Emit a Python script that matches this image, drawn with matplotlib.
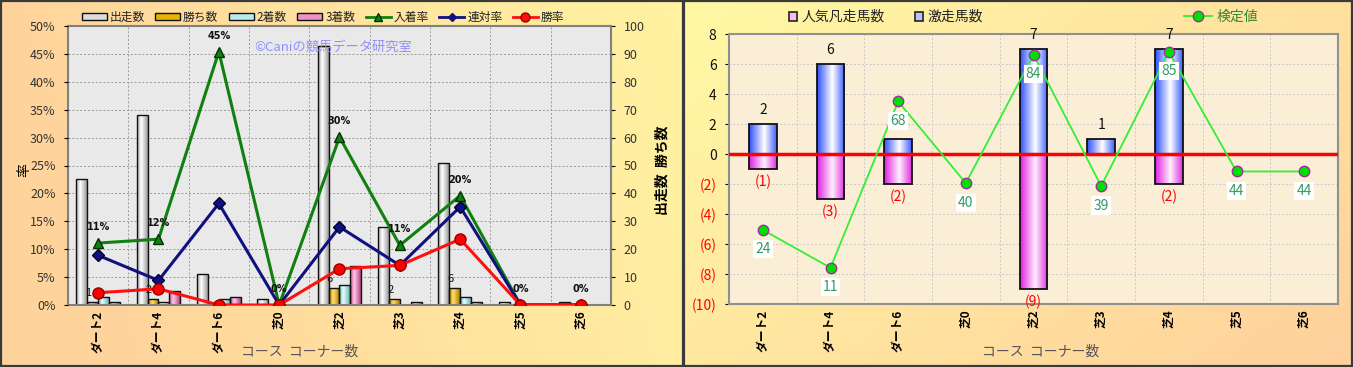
import numpy as np
import matplotlib
matplotlib.use('Agg')
import matplotlib.pyplot as plt
from matplotlib.colors import LinearSegmentedColormap, to_rgb
from matplotlib.patches import Rectangle, Patch
from matplotlib.lines import Line2D

plt.rcParams['font.family'] = ['Noto Sans CJK JP', 'DejaVu Sans']

# ---------------- data ----------------
categories = ['ダート2', 'ダート4', 'ダート6', '芝0', '芝2', '芝3', '芝4', '芝5', '芝6']
starts = [45, 68, 11, 2, 93, 28, 51, 1, 1]
wins = [1, 2, 0, 0, 6, 2, 6, 0, 0]
seconds = [3, 1, 2, 0, 7, 0, 3, 0, 0]
thirds = [1, 5, 3, 0, 14, 1, 1, 0, 0]
place_rate = [11.1, 11.8, 45.4, 0, 30.1, 10.7, 19.6, 0, 0]
quinella_rate = [8.9, 4.4, 18.2, 0, 14.0, 7.1, 17.6, 0, 0]
win_rate = [2.2, 2.9, 0, 0, 6.5, 7.1, 11.8, 0, 0]

gekiso = [2, 6, 1, 0, 7, 1, 7, 0, 0]      # 激走馬数
bonso = [1, 3, 2, 0, 9, 0, 2, 0, 0]       # 人気凡走馬数 (drawn downward)
kentei = [24, 11, 68, 40, 84, 39, 85, 44, 44]  # 検定値

W, H = 1353, 367
fig = plt.figure(figsize=(W / 100, H / 100), dpi=100)

# ---------------- backgrounds ----------------
bg = fig.add_axes([0, 0, 1, 1], zorder=-10)
bg.set_xlim(0, W)
bg.set_ylim(H, 0)
bg.axis('off')


def grad2d(c0, c1, nx, ny, wx, wy):
    xs = np.linspace(0, 1, nx)[None, :]
    ys = np.linspace(0, 1, ny)[:, None]
    t = np.clip(wx * xs + wy * ys, 0, 1)
    c0 = np.array(to_rgb(c0))
    c1 = np.array(to_rgb(c1))
    return c0[None, None, :] * (1 - t[..., None]) + c1[None, None, :] * t[..., None]


bg.imshow(grad2d('#FFD49C', '#FFF8A2', 200, 60, 0.85, -0.15), extent=[0, 683, H, 0],
          aspect='auto', interpolation='bilinear')
bg.imshow(grad2d('#FFF9A4', '#FFD09C', 200, 60, 0.6, 0.4), extent=[683, W, H, 0],
          aspect='auto', interpolation='bilinear')
bg.add_patch(Rectangle((0.8, 0.8), 682, H - 1.6, fill=False, ec='#3a3a3a', lw=1.6))
bg.add_patch(Rectangle((683.5, 0.8), W - 684.3, H - 1.6, fill=False, ec='#3a3a3a', lw=1.6))
bg.set_xlim(0, W)
bg.set_ylim(H, 0)


def gradient_bars(ax, bars, colors, stops=None):
    if stops is None:
        cmap = LinearSegmentedColormap.from_list('g', colors)
    else:
        cmap = LinearSegmentedColormap.from_list('g', list(zip(stops, colors)))
    grad = np.linspace(0, 1, 64).reshape(1, -1)
    for b in bars:
        h = b.get_height()
        if h == 0:
            b.set_visible(False)
            continue
        x0, y0, w = b.get_x(), b.get_y(), b.get_width()
        im = ax.imshow(grad, cmap=cmap, extent=[x0, x0 + w, y0, y0 + h], aspect='auto',
                       zorder=b.get_zorder() - 0.01, interpolation='bilinear', origin='lower')
        im.set_clip_path(b)
        b.set_facecolor('none')


x = np.arange(len(categories))

# ---------------- left chart ----------------
axL = fig.add_axes([68 / W, 1 - 305 / H, 543 / W, 279 / H])
axL.set_facecolor('#E9E9E9')
bw = 0.18
series = [
    (starts, ['#A8A8A8', '#FFFFFF', '#9A9A9A'], [0, 0.4, 1]),
    (wins, ['#B88A00', '#FFE066', '#A87A00'], [0, 0.4, 1]),
    (seconds, ['#70B8B8', '#E8FFFF', '#70B0B0'], [0, 0.4, 1]),
    (thirds, ['#C85090', '#FFC8E8', '#B84080'], [0, 0.4, 1]),
]
for k, (vals, cols, st) in enumerate(series):
    bars = axL.bar(x + (k - 1.5) * bw, vals, bw, edgecolor='#111111', linewidth=1.0, zorder=2)
    gradient_bars(axL, bars, cols, st)

for i, v in enumerate(wins):
    if v > 0:
        axL.annotate(str(v), (i - 0.5 * bw, v), xytext=(-3, 3), textcoords='offset points',
                     ha='center', va='bottom', fontsize=8, color='#111111', zorder=5)

axL.set_xlim(-0.5, len(categories) - 0.5)
axL.set_ylim(0, 100)
axL.set_yticks(np.arange(0, 101, 10))
axL.set_xticks(x)
axL.set_xticklabels(categories, rotation=90, fontsize=8.5, fontweight='bold')
axL.set_xticks(np.arange(0.5, len(categories) - 1, 1), minor=True)
axL.tick_params(axis='x', which='both', length=0, pad=4)
axL.grid(True, axis='y', which='major', color='#9a9a9a', ls=(0, (2, 2)), lw=0.7)
axL.grid(True, axis='x', which='minor', color='#9a9a9a', ls=(0, (2, 2)), lw=0.7)
axL.set_axisbelow(True)
for s in axL.spines.values():
    s.set_color('#808080')
    s.set_linewidth(1.5)

axLr = axL.twinx()
# counts on the right, rates on the left
axL.yaxis.tick_right()
axL.tick_params(axis='y', labelsize=9, labelcolor='#333333', length=3, pad=6)
axLr.yaxis.tick_left()
axLr.set_ylim(0, 50)
axLr.set_yticks(np.arange(0, 51, 5))
axLr.set_yticklabels([f'{v}%' for v in range(0, 51, 5)])
axLr.tick_params(axis='y', labelsize=9, labelcolor='#333333', length=3, pad=6)
for s in axLr.spines.values():
    s.set_visible(False)

axLr.plot(x, place_rate, color='#108010', lw=2.2, marker='^', ms=6.5, mfc='#108010', mec='#003300', zorder=4)
axLr.plot(x, quinella_rate, color='#101080', lw=2.2, marker='D', ms=6.5, mfc='#101080', mec='#000033', zorder=5)
axLr.plot(x, win_rate, color='#FF1010', lw=2.2, marker='o', ms=8, mfc='#FF0000', mec='#990000', zorder=6)
for i, v in enumerate(place_rate):
    axLr.annotate(f'{round(v)}%', (i, v), xytext=(0, 11.5), textcoords='offset points',
                  ha='center', va='center', fontsize=7, fontweight='bold', color='#111111',
                  family=['DejaVu Sans'], zorder=7)
axLr.set_xlim(-0.5, len(categories) - 0.5)

axL.text(0.488, 0.925, '©Caniの競馬データ研究室', transform=axL.transAxes, ha='center', va='center',
         fontsize=9.5, color='#8F8FFF', zorder=3)

fig.text(24 / W, 1 - 170 / H, '率', rotation=90, ha='center', va='center', fontsize=10)
fig.text(662 / W, 1 - 170 / H, '出走数  勝ち数', rotation=90, ha='center', va='center', fontsize=10,
         fontweight='bold')
fig.text(300 / W, 1 - 352 / H, 'コース  コーナー数', ha='center', va='center', fontsize=10, color='#555555')

hL = [Patch(fc='#DCDCDC', ec='#111111'), Patch(fc='#E8B400', ec='#111111'),
      Patch(fc='#B8ECEC', ec='#111111'), Patch(fc='#F090C8', ec='#111111'),
      Line2D([], [], color='#108010', lw=2, marker='^', ms=5.5, mec='#003300'),
      Line2D([], [], color='#101080', lw=2, marker='D', ms=4),
      Line2D([], [], color='#FF1010', lw=2, marker='o', ms=6.5, mec='#990000')]
lL = ['出走数', '勝ち数', '2着数', '3着数', '入着率', '連対率', '勝率']
fig.legend(hL, lL, loc='center', bbox_to_anchor=(323 / W, 1 - 17 / H), ncol=7, frameon=False,
           fontsize=8.5, handlelength=2.1, handleheight=0.5, columnspacing=0.9, handletextpad=0.25,
           labelcolor='#222222')

# ---------------- right chart ----------------
axR = fig.add_axes([729 / W, 1 - 304 / H, 609 / W, 270 / H])
axR.set_facecolor('#FBEED6')
rbw = 0.41
b1 = axR.bar(x, gekiso, rbw, edgecolor='#111111', linewidth=1.3, zorder=2)
gradient_bars(axR, b1, ['#3050FF', '#FFFFFF', '#4060FF'], [0, 0.55, 1])
b2 = axR.bar(x, [-v for v in bonso], rbw, edgecolor='#111111', linewidth=1.3, zorder=2)
gradient_bars(axR, b2, ['#E020E0', '#FFF0FF', '#E030E0'], [0, 0.55, 1])
axR.axhline(0, color='#FF0000', lw=2.5, zorder=3)

for i, v in enumerate(gekiso):
    if v > 0:
        axR.annotate(str(v), (i, v), xytext=(0, 5), textcoords='offset points', ha='center',
                     va='bottom', fontsize=10, color='#111111')
for i, v in enumerate(bonso):
    if v > 0:
        axR.annotate(f'({v})', (i, -v), xytext=(0, -4), textcoords='offset points', ha='center',
                     va='top', fontsize=10, color='#FF0000')

axR.set_xlim(-0.5, len(categories) - 0.5)
axR.set_ylim(-10, 8)
yt = np.arange(-10, 9, 2)
axR.set_yticks(yt)
axR.set_yticklabels([str(v) if v >= 0 else f'({-v})' for v in yt], fontsize=10)
for lab, v in zip(axR.get_yticklabels(), yt):
    lab.set_color('#111111' if v >= 0 else '#FF0000')
axR.set_xticks(x)
axR.set_xticklabels(categories, rotation=90, fontsize=8.5, fontweight='bold')
axR.set_xticks(np.arange(0.5, len(categories) - 1, 1), minor=True)
axR.tick_params(axis='x', which='both', length=0, pad=4)
axR.tick_params(axis='y', length=3, pad=6)
axR.grid(True, axis='y', which='major', color='#C8C8C8', ls=(0, (2, 2)), lw=0.7)
axR.grid(True, axis='x', which='minor', color='#C8C8C8', ls=(0, (2, 2)), lw=0.7)
axR.set_axisbelow(True)
for s in axR.spines.values():
    s.set_color('#909090')
    s.set_linewidth(1.5)

axR2 = axR.twinx()
axR2.set_ylim(-1.4, 91.1)
axR2.set_yticks([])
for s in axR2.spines.values():
    s.set_visible(False)
axR2.plot(x, kentei, color='#33EE33', lw=1.3, marker='o', ms=7.5, mfc='#00E000', mec='#993399',
          mew=1.0, zorder=4)
for i, v in enumerate(kentei):
    axR2.annotate(str(v), (i, v), xytext=(0, -14), textcoords='offset points', ha='center',
                  va='center', fontsize=10, color='#339966',
                  bbox=dict(boxstyle='square,pad=0.15', fc='white', ec='none'), zorder=5)
axR2.set_xlim(-0.5, len(categories) - 0.5)

fig.text(1041 / W, 1 - 352 / H, 'コース  コーナー数', ha='center', va='center', fontsize=10, color='#555555')

hR = [Patch(fc='#FFB8F4', ec='#222222', lw=1.2), Patch(fc='#B8C4FF', ec='#222222', lw=1.2)]
fig.legend(hR, ['人気凡走馬数', '激走馬数'], loc='center', bbox_to_anchor=(886 / W, 1 - 17 / H), ncol=2,
           frameon=False, fontsize=10, handlelength=0.6, handleheight=0.6, columnspacing=2.2,
           handletextpad=0.3, labelcolor='#222222')
fig.legend([Line2D([], [], color='#33EE33', lw=1.3, marker='o', ms=7.5, mfc='#00E000', mec='#993399')],
           ['検定値'], loc='center', bbox_to_anchor=(1221 / W, 1 - 17 / H), frameon=False,
           fontsize=10, handlelength=2.0, handletextpad=0.3, labelcolor='#338833')

fig.savefig('out.png', dpi=100)
